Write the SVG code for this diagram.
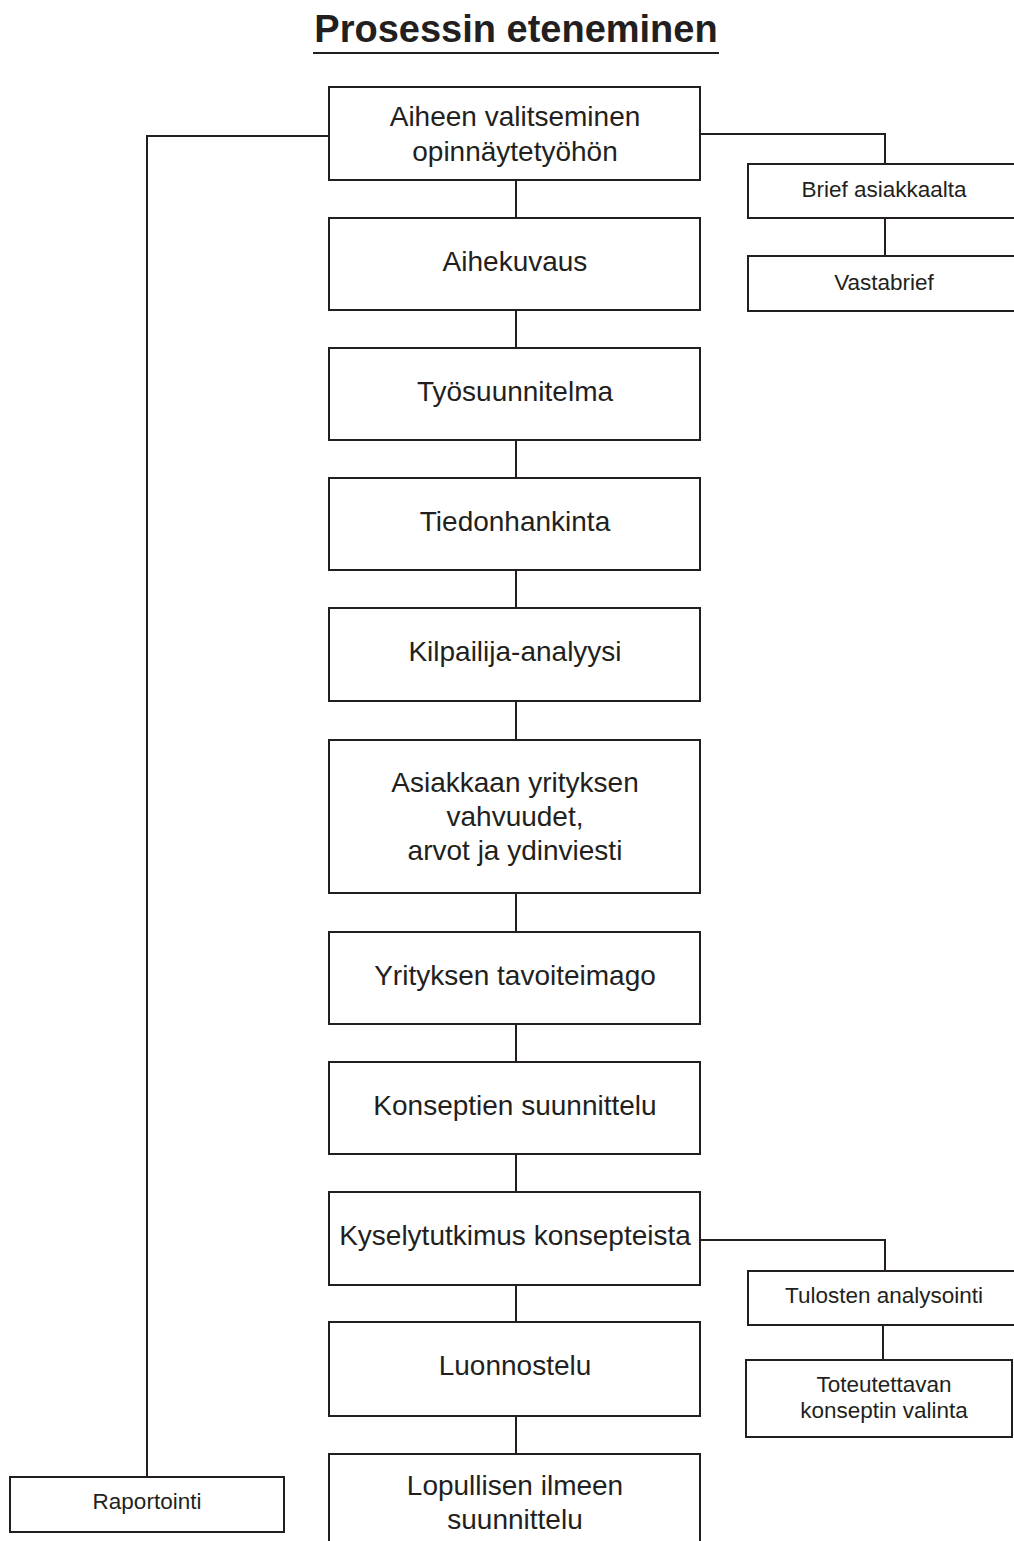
<svg xmlns="http://www.w3.org/2000/svg" width="1014" height="1541" viewBox="0 0 1014 1541">
<style>
.box{fill:#fff;stroke:#231f20;stroke-width:2}
.ln{fill:none;stroke:#231f20;stroke-width:2}
.t{font-family:"Liberation Sans",Arial,sans-serif;font-size:28px;fill:#231f20;text-anchor:middle}
.s{font-family:"Liberation Sans",Arial,sans-serif;font-size:22.5px;fill:#231f20;text-anchor:middle}
.title{font-family:"Liberation Sans",Arial,sans-serif;font-size:38px;font-weight:bold;fill:#231f20;text-anchor:middle}
</style>
<rect width="1014" height="1541" fill="#fff"/>
<g id="title">
<text class="title" x="516" y="42">Prosessin eteneminen</text>
<line class="ln" x1="313" y1="53" x2="719" y2="53"/>
</g>
<g id="connectors">
<polyline class="ln" points="329,136 147,136 147,1477"/>
<polyline class="ln" points="700,134 885,134 885,164"/>
<line class="ln" x1="885" y1="218" x2="885" y2="256"/>
<polyline class="ln" points="700,1240 885,1240 885,1271"/>
<line class="ln" x1="883" y1="1325" x2="883" y2="1360"/>
<line class="ln" x1="516" y1="180" x2="516" y2="218"/>
<line class="ln" x1="516" y1="310" x2="516" y2="348"/>
<line class="ln" x1="516" y1="440" x2="516" y2="478"/>
<line class="ln" x1="516" y1="570" x2="516" y2="608"/>
<line class="ln" x1="516" y1="701" x2="516" y2="740"/>
<line class="ln" x1="516" y1="893" x2="516" y2="932"/>
<line class="ln" x1="516" y1="1024" x2="516" y2="1062"/>
<line class="ln" x1="516" y1="1154" x2="516" y2="1192"/>
<line class="ln" x1="516" y1="1285" x2="516" y2="1322"/>
<line class="ln" x1="516" y1="1416" x2="516" y2="1454"/>
</g>
<g id="n1"><rect class="box" x="329" y="87" width="371" height="93"/><text class="t" x="515" y="126">Aiheen valitseminen</text><text class="t" x="515" y="161">opinnäytetyöhön</text></g>
<g id="n2"><rect class="box" x="329" y="218" width="371" height="92"/><text class="t" x="515" y="271">Aihekuvaus</text></g>
<g id="n3"><rect class="box" x="329" y="348" width="371" height="92"/><text class="t" x="515" y="401">Työsuunnitelma</text></g>
<g id="n4"><rect class="box" x="329" y="478" width="371" height="92"/><text class="t" x="515" y="531">Tiedonhankinta</text></g>
<g id="n5"><rect class="box" x="329" y="608" width="371" height="93"/><text class="t" x="515" y="661">Kilpailija-analyysi</text></g>
<g id="n6"><rect class="box" x="329" y="740" width="371" height="153"/><text class="t" x="515" y="792">Asiakkaan yrityksen</text><text class="t" x="515" y="826">vahvuudet,</text><text class="t" x="515" y="860">arvot ja ydinviesti</text></g>
<g id="n7"><rect class="box" x="329" y="932" width="371" height="92"/><text class="t" x="515" y="985">Yrityksen tavoiteimago</text></g>
<g id="n8"><rect class="box" x="329" y="1062" width="371" height="92"/><text class="t" x="515" y="1115">Konseptien suunnittelu</text></g>
<g id="n9"><rect class="box" x="329" y="1192" width="371" height="93"/><text class="t" x="515" y="1245">Kyselytutkimus konsepteista</text></g>
<g id="n10"><rect class="box" x="329" y="1322" width="371" height="94"/><text class="t" x="515" y="1375">Luonnostelu</text></g>
<g id="n11"><rect class="box" x="329" y="1454" width="371" height="100"/><text class="t" x="515" y="1495">Lopullisen ilmeen</text><text class="t" x="515" y="1529">suunnittelu</text></g>
<g id="n12"><rect class="box" x="748" y="164" width="280" height="54"/><text class="s" x="884" y="197">Brief asiakkaalta</text></g>
<g id="n13"><rect class="box" x="748" y="256" width="280" height="55"/><text class="s" x="884" y="290">Vastabrief</text></g>
<g id="n14"><rect class="box" x="748" y="1271" width="280" height="54"/><text class="s" x="884" y="1303">Tulosten analysointi</text></g>
<g id="n15"><rect class="box" x="746" y="1360" width="266" height="77"/><text class="s" x="884" y="1392">Toteutettavan</text><text class="s" x="884" y="1418">konseptin valinta</text></g>
<g id="n16"><rect class="box" x="10" y="1477" width="274" height="55"/><text class="s" x="147" y="1509">Raportointi</text></g>
</svg>
